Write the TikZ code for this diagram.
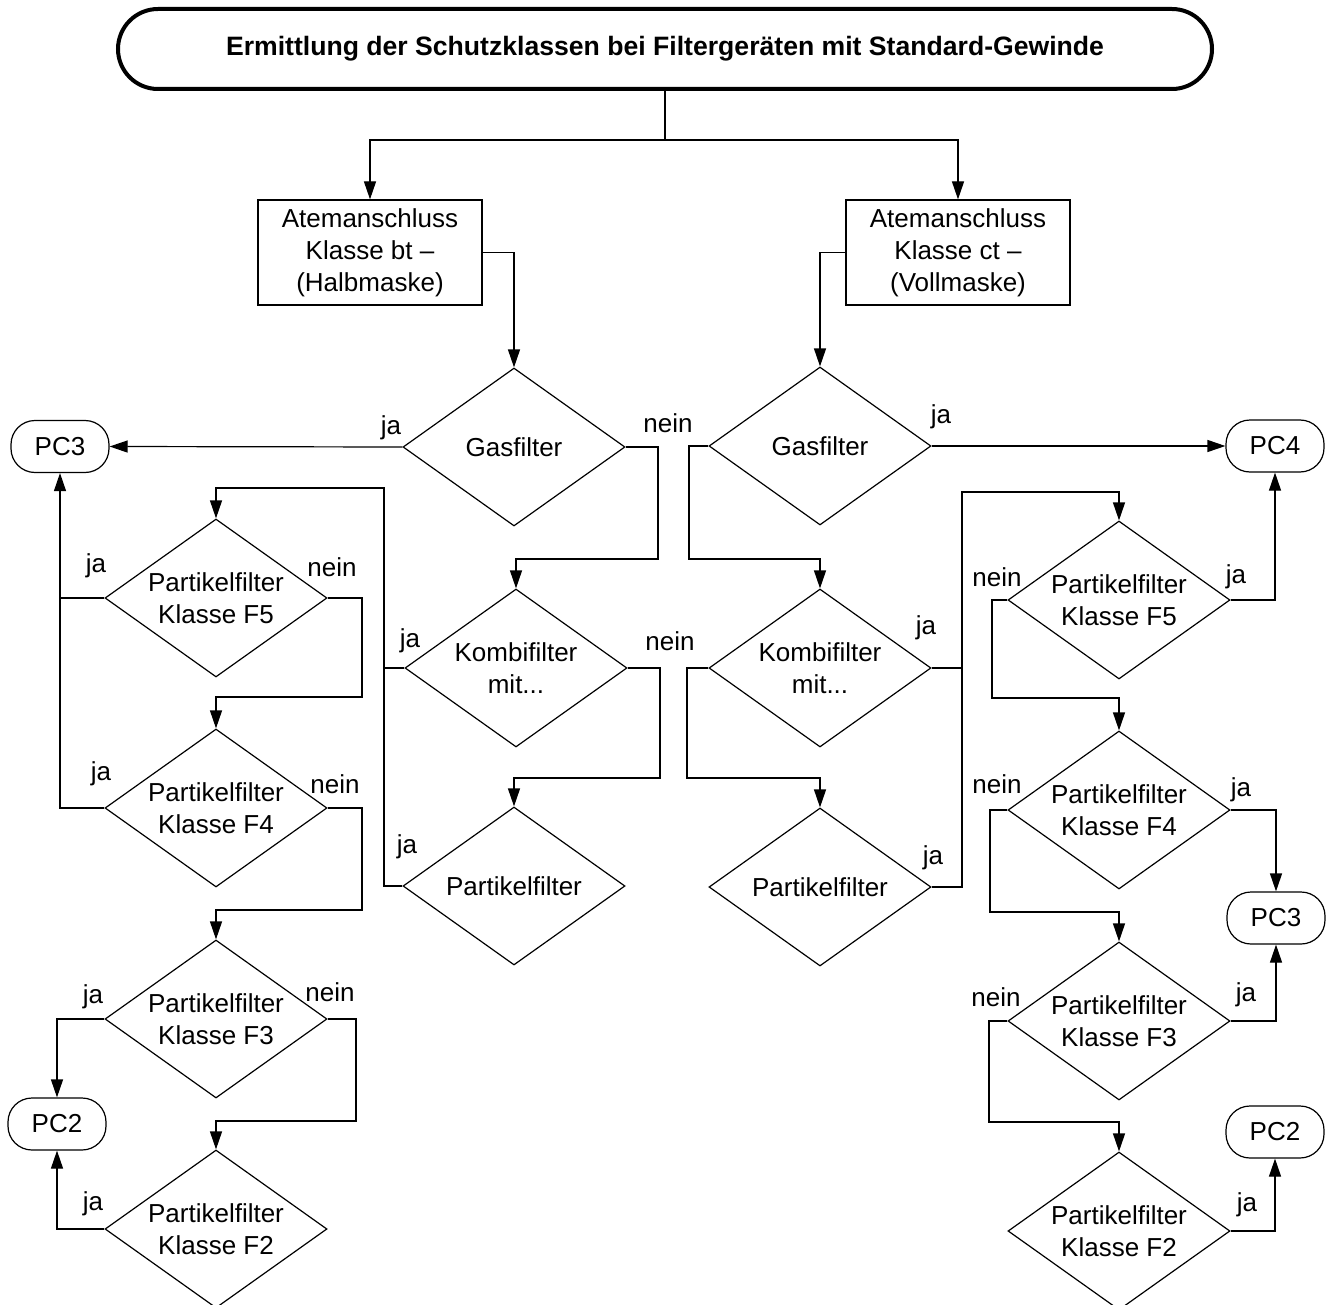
\documentclass[tikz,border=0pt]{standalone}
\usepackage{fontspec}
\setmainfont{Liberation Sans}
\usepackage{tikz}
\usetikzlibrary{shapes,arrows.meta}
\tikzstyle{titlebox} = [rectangle, draw, line width=2pt, rounded corners=20pt,
    minimum width=547pt, minimum height=40pt, font=\fontsize{13.3}{16}\selectfont\bfseries]
\tikzstyle{block} = [rectangle, draw, text centered, align=center,
    minimum width=112pt, minimum height=52.5pt, inner sep=0pt]
\tikzstyle{decision} = [diamond, draw, aspect=1.4, align=center,
    minimum width=111pt, minimum height=79pt, inner sep=0pt]
\tikzstyle{terminal} = [rectangle, draw, rounded corners=12pt,
    minimum width=49pt, minimum height=26pt]
\tikzstyle{answer} = [inner sep=0pt]
\tikzstyle{line} = [draw, -{Triangle[length=9pt,width=6pt]}]

\begin{document}
\begin{tikzpicture}[x=0.5pt, y=-0.5pt, line width=0.6pt, font=\fontsize{13}{16}\selectfont]
    \path[use as bounding box, clip] (0,0) rectangle (1328,1305);
    % Place nodes
    \node [titlebox] (title) at (665,49) {Ermittlung der Schutzklassen bei Filterger\"aten mit Standard-Gewinde};
    \node [block] (atemBt) at (370,252.5) {Atemanschluss\\Klasse bt --\\(Halbmaske)};
    \node [block] (atemCt) at (958,252.5) {Atemanschluss\\Klasse ct --\\(Vollmaske)};
    % left side
    \node [decision] (gasL) at (514,447) {Gasfilter};
    \node [decision] (kombiL) at (516,668) {Kombifilter\\mit...};
    \node [decision] (partL) at (514,886) {Partikelfilter};
    \node [decision] (f5L) at (216,598) {Partikelfilter\\Klasse F5};
    \node [decision] (f4L) at (216,808) {Partikelfilter\\Klasse F4};
    \node [decision] (f3L) at (216,1019) {Partikelfilter\\Klasse F3};
    \node [decision] (f2L) at (216,1229) {Partikelfilter\\Klasse F2};
    \node [terminal] (pc3L) at (60,446.5) {PC3};
    \node [terminal] (pc2L) at (57,1124) {PC2};
    % right side
    \node [decision] (gasR) at (820,446) {Gasfilter};
    \node [decision] (kombiR) at (820,668) {Kombifilter\\mit...};
    \node [decision] (partR) at (820,887) {Partikelfilter};
    \node [decision] (f5R) at (1119,600) {Partikelfilter\\Klasse F5};
    \node [decision] (f4R) at (1119,810) {Partikelfilter\\Klasse F4};
    \node [decision] (f3R) at (1119,1021) {Partikelfilter\\Klasse F3};
    \node [decision] (f2R) at (1119,1231) {Partikelfilter\\Klasse F2};
    \node [terminal] (pc4R) at (1275,446) {PC4};
    \node [terminal] (pc3R) at (1276,918) {PC3};
    \node [terminal] (pc2R) at (1275,1132) {PC2};
    % Answers
    \node [answer] (jaGasL) at (391,428) {ja};
    \node [answer] (neinGasL) at (668,423) {nein};
    \node [answer] (jaKombiL) at (410,641) {ja};
    \node [answer] (neinKombiL) at (670,641) {nein};
    \node [answer] (jaPartL) at (407,847) {ja};
    \node [answer] (jaF5L) at (96,566) {ja};
    \node [answer] (neinF5L) at (332,567) {nein};
    \node [answer] (jaF4L) at (101,774) {ja};
    \node [answer] (neinF4L) at (335,784) {nein};
    \node [answer] (jaF3L) at (93,997) {ja};
    \node [answer] (neinF3L) at (330,992) {nein};
    \node [answer] (jaF2L) at (93,1204) {ja};
    \node [answer] (jaGasR) at (941,417) {ja};
    \node [answer] (jaKombiR) at (926,628) {ja};
    \node [answer] (jaPartR) at (933,858) {ja};
    \node [answer] (neinF5R) at (997,577) {nein};
    \node [answer] (jaF5R) at (1236,577) {ja};
    \node [answer] (neinF4R) at (997,784) {nein};
    \node [answer] (jaF4R) at (1241,790) {ja};
    \node [answer] (neinF3R) at (996,997) {nein};
    \node [answer] (jaF3R) at (1246,995) {ja};
    \node [answer] (jaF2R) at (1247,1205) {ja};
    % Draw edges
    \draw (title.south) -- (665,140) coordinate (split);
    \path [line] (split) -| (atemBt.north);
    \path [line] (split) -| (atemCt.north);
    \path [line] (atemBt.east) -| (gasL.north);
    \path [line] (atemCt.west) -| (gasR.north);
    % left side
    \path [line] (gasL.west) -- (pc3L.east);
    \path [line] (gasL.east) -| (658,559) -| (kombiL.north);
    \path [line] (kombiL.east) -| (660,778) -| (partL.north);
    \draw (kombiL.west) -- (384,668);
    \path [line] (partL.west) -| (384,488) -| (f5L.north);
    \path [line] (f5L.west) -| (pc3L.south);
    \draw (f4L.west) -| (60,598);
    \path [line] (f5L.east) -| (362,697) -| (f4L.north);
    \path [line] (f4L.east) -| (362,910) -| (f3L.north);
    \path [line] (f3L.west) -| (pc2L.north);
    \path [line] (f3L.east) -| (356,1121) -| (f2L.north);
    \path [line] (f2L.west) -| (pc2L.south);
    % right side
    \path [line] (gasR.east) -- (pc4R.west);
    \path [line] (gasR.west) -| (689,559) -| (kombiR.north);
    \path [line] (kombiR.west) -| (687,778) -| (partR.north);
    \draw (kombiR.east) -- (962,668);
    \path [line] (partR.east) -| (962,492) -| (f5R.north);
    \path [line] (f5R.east) -| (pc4R.south);
    \path [line] (f5R.west) -| (992,698) -| (f4R.north);
    \path [line] (f4R.east) -| (pc3R.north);
    \path [line] (f4R.west) -| (990,912) -| (f3R.north);
    \path [line] (f3R.east) -| (pc3R.south);
    \path [line] (f3R.west) -| (989,1122) -| (f2R.north);
    \path [line] (f2R.east) -| (pc2R.south);
\end{tikzpicture}
\end{document}
